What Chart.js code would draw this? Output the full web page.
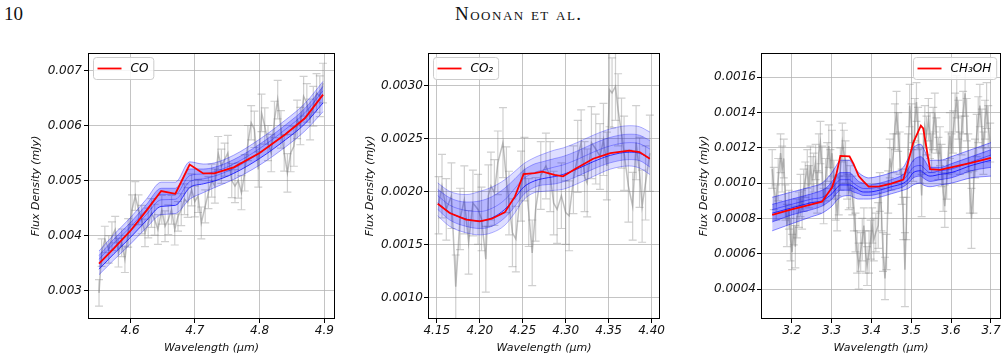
<!DOCTYPE html>
<html>
<head>
<meta charset="utf-8">
<script src="https://cdn.jsdelivr.net/npm/chart.js@4.4.0/dist/chart.umd.min.js"></script>
<style>
body { margin: 0; background: #fff; width: 1008px; height: 361px; position: relative; overflow: hidden; }
.hdr { position: absolute; top: 4px; font-family: "Liberation Serif", serif; font-size: 19px; line-height: 19px; color: #111; }
.panel { position: absolute; top: 40px; height: 321px; }
</style>
</head>
<body>
<div class="hdr" style="left:4px">10</div>
<div class="hdr" style="left:455px; font-variant: small-caps; letter-spacing: 1.5px">Noonan et al.</div>
<div class="panel" style="left:22px; width:315px"><canvas id="coChart"></canvas></div>
<div class="panel" style="left:355px; width:311px"><canvas id="co2Chart"></canvas></div>
<div class="panel" style="left:690px; width:313px"><canvas id="ch3ohChart"></canvas></div>
<script>
// ---- CO panel ----
const coWave = [4.552,4.556,4.561,4.567,4.572,4.577,4.582,4.587,4.592,4.597,4.603,4.608,4.613,4.618,4.623,4.628,4.633,4.638,4.643,4.649,4.654,4.659,4.664,4.669,4.674,4.679,4.684,4.689,4.695,4.700,4.705,4.710,4.716,4.721,4.726,4.731,4.736,4.741,4.746,4.751,4.757,4.762,4.767,4.772,4.777,4.782,4.787,4.792,4.798,4.803,4.808,4.813,4.818,4.823,4.828,4.833,4.838,4.843,4.848,4.853,4.858,4.863,4.868,4.873,4.878,4.883,4.888,4.893,4.898];
const coFlux = [0.00296,0.00369,0.00393,0.00375,0.00399,0.00411,0.00369,0.00387,0.00357,0.00405,0.00447,0.00472,0.00447,0.00429,0.00405,0.00423,0.00441,0.00429,0.00411,0.00447,0.00417,0.00429,0.00447,0.00411,0.00435,0.00447,0.00466,0.0046,0.00483,0.00462,0.00472,0.00423,0.00453,0.00478,0.005,0.0049,0.0055,0.00526,0.00538,0.0055,0.005,0.0049,0.005,0.00478,0.00514,0.00568,0.00605,0.00593,0.0052,0.00623,0.00599,0.00568,0.0055,0.00611,0.00647,0.00593,0.0055,0.00514,0.0055,0.00562,0.00611,0.00599,0.00653,0.00641,0.00611,0.00635,0.00659,0.00653,0.00677];
const coErr = [0.00024,0.00025,0.00024,0.00025,0.00026,0.00024,0.00026,0.00025,0.00024,0.00026,0.00027,0.00026,0.00027,0.00026,0.00025,0.00027,0.00026,0.00028,0.00027,0.00026,0.00028,0.00027,0.00026,0.00028,0.00027,0.00029,0.00028,0.00027,0.00029,0.00028,0.0003,0.00029,0.0003,0.00029,0.0003,0.00031,0.0003,0.00031,0.0003,0.00032,0.00031,0.0003,0.00032,0.00031,0.00033,0.00032,0.00031,0.00033,0.00032,0.00034,0.00033,0.00032,0.00034,0.00033,0.00035,0.00034,0.00033,0.00035,0.00034,0.00036,0.00035,0.00034,0.00036,0.00035,0.00037,0.00036,0.00035,0.00037,0.00036];
const coModelWave = [4.552,4.575,4.6,4.625,4.648,4.67,4.692,4.713,4.73,4.76,4.8,4.84,4.87,4.898];
const coBest = [0.00349,0.00377,0.00408,0.00445,0.00481,0.00476,0.00529,0.00513,0.00513,0.00524,0.0055,0.00584,0.00613,0.00656];
const coModels = [
  [0.00372,0.00402,0.00432,0.00466,0.00497,0.00497,0.00534,0.00530,0.00532,0.00546,0.00575,0.00610,0.00640,0.00680],
  [0.00364,0.00394,0.00423,0.00456,0.00486,0.00486,0.00521,0.00521,0.00524,0.00538,0.00566,0.00601,0.00631,0.00671],
  [0.00357,0.00386,0.00415,0.00447,0.00475,0.00475,0.00509,0.00512,0.00516,0.00530,0.00558,0.00593,0.00623,0.00663],
  [0.00350,0.00378,0.00407,0.00438,0.00465,0.00466,0.00498,0.00503,0.00508,0.00522,0.00550,0.00585,0.00615,0.00655],
  [0.00339,0.00367,0.00396,0.00427,0.00453,0.00455,0.00487,0.00494,0.00499,0.00513,0.00540,0.00574,0.00603,0.00641],
  [0.00329,0.00356,0.00384,0.00414,0.00438,0.00440,0.00466,0.00478,0.00487,0.00502,0.00528,0.00561,0.00590,0.00625]
];
const coXTicks = [4.6, 4.7, 4.8, 4.9];
const coYTicks = [0.003, 0.004, 0.005, 0.006, 0.007];

// ---- CO2 panel ----
const co2Wave = [4.152,4.156,4.161,4.167,4.172,4.177,4.182,4.187,4.192,4.198,4.202,4.207,4.210,4.213,4.217,4.221,4.227,4.231,4.234,4.238,4.242,4.248,4.252,4.257,4.261,4.265,4.271,4.277,4.282,4.286,4.290,4.295,4.300,4.304,4.309,4.314,4.318,4.322,4.325,4.330,4.335,4.340,4.344,4.348,4.351,4.354,4.358,4.361,4.365,4.368,4.373,4.378,4.382,4.386,4.389,4.393,4.398];
const co2Flux = [0.00187,0.00205,0.00183,0.00196,0.0011,0.00174,0.00192,0.00152,0.00189,0.00183,0.00174,0.00136,0.00196,0.00205,0.00199,0.00227,0.00246,0.00211,0.00189,0.00161,0.00155,0.00205,0.00221,0.0018,0.00142,0.00183,0.00215,0.00224,0.00214,0.00189,0.00183,0.00196,0.0018,0.00177,0.00211,0.00233,0.00246,0.00214,0.00208,0.00246,0.0024,0.00233,0.00249,0.00224,0.00296,0.00293,0.00299,0.00277,0.00255,0.00236,0.00205,0.00186,0.00246,0.00218,0.00186,0.00208,0.00236];
const co2Err = [0.00027,0.0003,0.00029,0.00031,0.0003,0.00029,0.00032,0.0003,0.00031,0.00033,0.0003,0.00031,0.00029,0.00032,0.00031,0.0003,0.00033,0.00031,0.0003,0.00032,0.00031,0.00033,0.0003,0.00032,0.00031,0.0003,0.00032,0.00031,0.00033,0.0003,0.00032,0.00031,0.0003,0.00033,0.00032,0.00034,0.00031,0.00033,0.00032,0.00034,0.00033,0.00031,0.00034,0.00032,0.00035,0.00033,0.00032,0.00034,0.00033,0.00035,0.00034,0.00032,0.00035,0.00033,0.00034,0.00035,0.00036];
const co2ModelWave = [4.151,4.165,4.184,4.2,4.214,4.229,4.241,4.251,4.264,4.273,4.287,4.297,4.313,4.332,4.352,4.374,4.386,4.398];
const co2Best = [0.001884,0.001796,0.001733,0.001717,0.001742,0.001802,0.001953,0.002164,0.002173,0.002186,0.002157,0.002142,0.00222,0.002308,0.002362,0.002384,0.002371,0.002308];
const co2Models = [
  [0.00208,0.00200,0.00197,0.00200,0.00204,0.00211,0.00219,0.00226,0.00232,0.00235,0.00239,0.00241,0.00246,0.00253,0.00259,0.00262,0.00261,0.00256],
  [0.00202,0.00194,0.00190,0.00191,0.00195,0.00203,0.00212,0.00220,0.00226,0.00228,0.00231,0.00233,0.00238,0.00245,0.00251,0.00254,0.00253,0.00248],
  [0.00196,0.00187,0.00182,0.00181,0.00184,0.00192,0.00203,0.00212,0.00218,0.00220,0.00223,0.00225,0.00230,0.00237,0.00243,0.00246,0.00245,0.00240],
  [0.00189,0.00180,0.00174,0.00172,0.00175,0.00183,0.00194,0.00204,0.00210,0.00212,0.00214,0.00216,0.00221,0.00228,0.00234,0.00237,0.00236,0.00231],
  [0.00183,0.00173,0.00167,0.00165,0.00167,0.00175,0.00186,0.00197,0.00204,0.00206,0.00207,0.00209,0.00214,0.00221,0.00227,0.00230,0.00229,0.00223],
  [0.00177,0.00167,0.00161,0.00159,0.00161,0.00168,0.00180,0.00192,0.00199,0.00200,0.00201,0.00202,0.00207,0.00214,0.00221,0.00224,0.00222,0.00216]
];
const co2XTicks = [4.15, 4.20, 4.25, 4.30, 4.35, 4.40];
const co2YTicks = [0.0010, 0.0015, 0.0020, 0.0025, 0.0030];

// ---- CH3OH panel ----
const ch3ohWave = [3.151,3.155,3.161,3.166,3.172,3.176,3.180,3.184,3.188,3.193,3.197,3.201,3.205,3.209,3.213,3.218,3.222,3.226,3.230,3.234,3.239,3.243,3.247,3.251,3.255,3.260,3.264,3.268,3.272,3.276,3.280,3.285,3.289,3.293,3.297,3.301,3.306,3.310,3.314,3.318,3.322,3.327,3.331,3.335,3.339,3.343,3.347,3.352,3.356,3.360,3.364,3.368,3.373,3.377,3.381,3.385,3.389,3.394,3.398,3.402,3.406,3.411,3.417,3.421,3.425,3.429,3.434,3.438,3.442,3.446,3.450,3.455,3.459,3.463,3.467,3.471,3.476,3.480,3.484,3.488,3.492,3.496,3.501,3.505,3.509,3.513,3.517,3.522,3.526,3.530,3.534,3.538,3.543,3.547,3.551,3.555,3.559,3.563,3.568,3.572,3.576,3.580,3.584,3.589,3.593,3.597,3.601,3.605,3.610,3.614,3.618,3.622,3.626,3.630,3.635,3.639,3.643,3.647,3.651,3.656,3.660,3.664,3.668,3.672,3.677,3.681,3.685,3.689,3.693,3.698];
const ch3ohFlux = [0.00108,0.00097,0.00089,0.00102,0.00117,0.00108,0.00114,0.00089,0.00076,0.00085,0.00068,0.00061,0.00076,0.00064,0.0008,0.00085,0.00093,0.00085,0.00096,0.00102,0.00108,0.00098,0.0011,0.00102,0.00106,0.00112,0.00095,0.00117,0.00123,0.0011,0.00087,0.00102,0.00112,0.00121,0.00108,0.00117,0.00102,0.00091,0.00083,0.00093,0.00108,0.00123,0.00117,0.00112,0.00102,0.00095,0.00098,0.00093,0.00085,0.00072,0.00061,0.00053,0.00061,0.00068,0.00076,0.00061,0.00053,0.00061,0.00068,0.00076,0.00068,0.00072,0.00076,0.00095,0.00085,0.00061,0.00046,0.00061,0.00095,0.00114,0.00108,0.00117,0.00132,0.0014,0.00129,0.00117,0.00098,0.0008,0.00051,0.0008,0.00117,0.00144,0.00132,0.00112,0.00136,0.00146,0.00131,0.0011,0.00093,0.00117,0.00132,0.00127,0.00136,0.00127,0.00117,0.00131,0.0014,0.00127,0.00114,0.00121,0.0011,0.00095,0.00087,0.00102,0.00117,0.00127,0.00117,0.00129,0.0014,0.00149,0.00136,0.00117,0.00127,0.0014,0.00151,0.00136,0.00117,0.00095,0.0008,0.00095,0.00114,0.00127,0.00136,0.00144,0.00131,0.00117,0.00136,0.00144,0.00132,0.00123];
const ch3ohErr = [0.00011,0.00012,0.0001,0.00012,0.00011,0.00013,0.00011,0.0001,0.00012,0.00011,
  0.00012,0.0001,0.00011,0.00012,0.00011,0.0001,0.00012,0.00011,0.00012,0.0001,
  0.00011,0.00012,0.00011,0.00013,0.00011,0.0001,0.00012,0.00011,0.00012,0.00011,
  0.0001,0.00012,0.00011,0.00012,0.00011,0.00013,0.00011,0.00012,0.0001,0.00011,
  0.00012,0.00011,0.00013,0.00012,0.00011,0.0001,0.00012,0.00011,0.00012,0.00011,
  0.00012,0.00013,0.00011,0.00012,0.0001,0.00012,0.00011,0.00012,0.00011,0.0001,
  0.00012,0.00011,0.00013,0.00011,0.00012,0.00011,0.00012,0.0001,0.00012,0.00011,
  0.00012,0.00011,0.00013,0.00012,0.00011,0.00012,0.0001,0.00012,0.00021,0.00012,
  0.00011,0.00012,0.00013,0.00011,0.00012,0.00011,0.00012,0.0001,0.00012,0.00011,
  0.00012,0.00011,0.00012,0.00013,0.00011,0.00012,0.00011,0.0001,0.00012,0.00011,
  0.00012,0.00011,0.00012,0.00011,0.00012,0.00013,0.00011,0.00012,0.00011,0.00012,
  0.00011,0.00012,0.00011,0.00012,0.00013,0.00012,0.00011,0.00012,0.00017,0.00012,
  0.00011,0.00012,0.00013,0.00012,0.00011,0.00012,0.00011,0.00013,0.00012,0.00011];
const ch3ohModelWave = [3.151,3.20,3.25,3.276,3.29,3.301,3.312,3.322,3.345,3.355,3.368,3.38,3.393,3.42,3.45,3.48,3.492,3.505,3.524,3.53,3.547,3.572,3.60,3.65,3.70];
const ch3ohBest = [0.00082,0.000852,0.00088,0.000895,0.00094,0.000975,0.00105,0.001155,0.001152,0.00111,0.00104,0.00101,0.00098,0.000982,0.000998,0.00102,0.00112,0.00123,0.001326,0.00131,0.00108,0.001075,0.00109,0.001115,0.001144];
const ch3ohModels = [
  [0.00092,0.00095,0.00098,0.00100,0.00103,0.00106,0.00110,0.00113,0.00113,0.00110,0.00106,0.00104,0.00103,0.00104,0.00106,0.00109,0.00114,0.00120,0.00122,0.00120,0.00113,0.00113,0.00115,0.00119,0.00123],
  [0.00088,0.00091,0.00094,0.00096,0.00098,0.00101,0.00104,0.00106,0.00106,0.00104,0.00101,0.00100,0.00099,0.00100,0.00102,0.00105,0.00108,0.00113,0.00115,0.00114,0.00109,0.00109,0.00111,0.00115,0.00119],
  [0.00085,0.00088,0.00091,0.00092,0.00094,0.00097,0.00100,0.00102,0.00102,0.00100,0.00098,0.00097,0.00097,0.00098,0.00100,0.00102,0.00105,0.00109,0.00110,0.00109,0.00106,0.00107,0.00108,0.00112,0.00116],
  [0.00083,0.00086,0.00089,0.00090,0.00092,0.00094,0.00097,0.00099,0.00099,0.00098,0.00096,0.00095,0.00095,0.00096,0.00098,0.00100,0.00102,0.00106,0.00107,0.00106,0.00104,0.00105,0.00106,0.00110,0.00113],
  [0.00078,0.00082,0.00085,0.00087,0.00089,0.00091,0.00094,0.00096,0.00096,0.00095,0.00094,0.00093,0.00093,0.00094,0.00096,0.00098,0.00100,0.00103,0.00104,0.00103,0.00101,0.00102,0.00103,0.00107,0.00109],
  [0.00073,0.00077,0.00081,0.00083,0.00085,0.00087,0.00090,0.00092,0.00093,0.00092,0.00091,0.00091,0.00091,0.00092,0.00094,0.00096,0.00097,0.00099,0.00100,0.00099,0.00098,0.00099,0.00100,0.00103,0.00104]
];
const ch3ohXTicks = [3.2, 3.3, 3.4, 3.5, 3.6, 3.7];
const ch3ohYTicks = [0.0004, 0.0006, 0.0008, 0.0010, 0.0012, 0.0014, 0.0016];

const FONT = 'DejaVu Sans';

// error bars under the data line, through the chart's scales
function errorBars(wave, flux, err) {
  return {
    id: 'errorBars',
    beforeDatasetsDraw(chart) {
      const { ctx, chartArea: a, scales: { x, y } } = chart;
      ctx.save();
      ctx.beginPath();
      ctx.rect(a.left, a.top, a.right - a.left, a.bottom - a.top);
      ctx.clip();
      ctx.strokeStyle = 'rgba(128,128,128,0.38)';
      ctx.lineWidth = 1.2;
      wave.forEach((w, i) => {
        const e = err[i] !== undefined ? err[i] : err[err.length - 1];
        const px = x.getPixelForValue(w);
        const lo = y.getPixelForValue(flux[i] - e);
        const hi = y.getPixelForValue(flux[i] + e);
        ctx.beginPath();
        ctx.moveTo(px, lo); ctx.lineTo(px, hi);
        ctx.moveTo(px - 4, lo); ctx.lineTo(px + 4, lo);
        ctx.moveTo(px - 4, hi); ctx.lineTo(px + 4, hi);
        ctx.stroke();
      });
      ctx.restore();
    }
  };
}

// black frame on all four sides
const frame = {
  id: 'frame',
  afterDraw(chart) {
    const { ctx, chartArea: a } = chart;
    ctx.save();
    ctx.strokeStyle = '#000';
    ctx.lineWidth = 1;
    ctx.strokeRect(Math.round(a.left) + 0.5, Math.round(a.top) + 0.5,
      Math.round(a.right - a.left) - 1, Math.round(a.bottom - a.top) - 1);
    ctx.restore();
  }
};

// matplotlib-like legend box inside the axes
function legendBox(text, side) {
  return {
    id: 'legendBox',
    afterDraw(chart) {
      const { ctx, chartArea: a } = chart;
      ctx.save();
      ctx.font = 'italic 12px "' + FONT + '"';
      const tw = ctx.measureText(text).width;
      const w = 4.5 + 24 + 9 + tw + 5, h = 22;
      const bx = Math.round(side === 'right' ? a.right - 5 - w : a.left + 5);
      const by = Math.round(a.top + 4);
      ctx.fillStyle = 'rgba(255,255,255,0.85)';
      ctx.strokeStyle = '#cccccc';
      ctx.lineWidth = 1;
      ctx.beginPath();
      ctx.roundRect(bx + 0.5, by + 0.5, w, h, 3);
      ctx.fill();
      ctx.stroke();
      ctx.strokeStyle = '#ff0000';
      ctx.lineWidth = 1.8;
      ctx.beginPath();
      ctx.moveTo(bx + 4.5, by + h / 2 + 0.5);
      ctx.lineTo(bx + 28.5, by + h / 2 + 0.5);
      ctx.stroke();
      ctx.fillStyle = '#000';
      ctx.textBaseline = 'middle';
      ctx.fillText(text, bx + 37.5, by + h / 2 + 1);
      ctx.restore();
    }
  };
}

function makePanel(id, p) {
  const datasets = [];
  datasets.push({
    label: p.name,
    data: p.modelWave.map((w, i) => ({ x: w, y: p.best[i] })),
    borderColor: '#ff0000', borderWidth: 1.8, pointRadius: 0, tension: 0, order: 0
  });
  const first = datasets.length;
  const n = p.models.length;
  p.models.forEach((m, k) => {
    // outer band fill from the top model to the bottom one, inner band a bit darker
    let fill = false, bg = 'rgba(0,0,255,0)';
    if (k === 0) { fill = first + n - 1; bg = 'rgba(0,0,255,' + p.fillAlpha + ')'; }
    if (k === 1) { fill = first + n - 2; bg = 'rgba(0,0,255,' + p.innerAlpha + ')'; }
    datasets.push({
      data: p.modelWave.map((w, i) => ({ x: w, y: m[i] })),
      borderColor: k === p.dark ? 'rgba(0,0,255,0.75)' : 'rgba(0,0,255,' + p.lineAlpha + ')',
      borderWidth: 1, pointRadius: 0, cubicInterpolationMode: 'monotone', order: 1,
      fill: fill, backgroundColor: bg
    });
  });
  datasets.push({
    data: p.wave.map((w, i) => ({ x: w, y: p.flux[i] })),
    borderColor: 'rgba(128,128,128,0.5)', borderWidth: 1.5, pointRadius: 0, tension: 0, order: 3
  });

  const tickFont = { family: FONT, size: 12, style: 'italic' };
  const titleFont = { family: FONT, size: 11, style: 'italic' };
  const grid = { color: 'rgba(176,176,176,0.75)', lineWidth: 1, tickColor: '#000', tickLength: 4 };

  return new Chart(document.getElementById(id), {
    type: 'line',
    data: { datasets: datasets },
    plugins: [errorBars(p.wave, p.flux, p.err), frame, legendBox(p.name, p.legendSide)],
    options: {
      responsive: true,
      maintainAspectRatio: false,
      animation: false,
      layout: { padding: { top: 13, right: 2, left: 0, bottom: 0 } },
      plugins: { legend: { display: false }, tooltip: { enabled: false } },
      scales: {
        x: {
          type: 'linear', min: p.xMin, max: p.xMax,
          afterBuildTicks: s => { s.ticks = p.xTicks.map(v => ({ value: v })); },
          afterFit: s => { s.height = 42; },
          ticks: { callback: v => v.toFixed(p.xDec), font: tickFont, color: '#111', padding: 1, maxRotation: 0, autoSkip: false },
          grid: grid,
          border: { display: false },
          title: { display: true, text: 'Wavelength (μm)', font: titleFont, color: '#111', padding: { top: 0, bottom: 6 } }
        },
        y: {
          type: 'linear', min: p.yMin, max: p.yMax,
          afterBuildTicks: s => { s.ticks = p.yTicks.map(v => ({ value: v })); },
          afterFit: s => { s.width = p.yWidth; },
          ticks: { callback: v => v.toFixed(p.yDec), font: tickFont, color: '#111', padding: p.yPad, autoSkip: false },
          grid: grid,
          border: { display: false },
          title: { display: true, text: 'Flux Density (mJy)', font: titleFont, color: '#111', padding: { top: p.titlePad, bottom: 0 } }
        }
      }
    }
  });
}

makePanel('coChart', {
  name: 'CO', legendSide: 'left',
  wave: coWave, flux: coFlux, err: coErr,
  modelWave: coModelWave, best: coBest, models: coModels, dark: 4,
  lineAlpha: 0.35, fillAlpha: 0.16, innerAlpha: 0.22,
  xMin: 4.535, xMax: 4.9165, xTicks: coXTicks, xDec: 1,
  yMin: 0.002486, yMax: 0.007316, yTicks: coYTicks, yDec: 3,
  yWidth: 66, yPad: 2, titlePad: 8
});

makePanel('co2Chart', {
  name: 'CO₂', legendSide: 'left',
  wave: co2Wave, flux: co2Flux, err: co2Err,
  modelWave: co2ModelWave, best: co2Best, models: co2Models, dark: 3,
  lineAlpha: 0.3, fillAlpha: 0.13, innerAlpha: 0.18,
  xMin: 4.1397, xMax: 4.4098, xTicks: co2XTicks, xDec: 2,
  yMin: 0.000796, yMax: 0.003306, yTicks: co2YTicks, yDec: 4,
  yWidth: 73, yPad: 1, titlePad: 9
});

makePanel('ch3ohChart', {
  name: 'CH₃OH', legendSide: 'right',
  wave: ch3ohWave, flux: ch3ohFlux, err: ch3ohErr,
  modelWave: ch3ohModelWave, best: ch3ohBest, models: ch3ohModels, dark: 3,
  lineAlpha: 0.45, fillAlpha: 0.2, innerAlpha: 0.28,
  xMin: 3.1229, xMax: 3.7251, xTicks: ch3ohXTicks, xDec: 1,
  yMin: 0.00023, yMax: 0.001738, yTicks: ch3ohYTicks, yDec: 4,
  yWidth: 71, yPad: 1, titlePad: 8
});
</script>
</body>
</html>
